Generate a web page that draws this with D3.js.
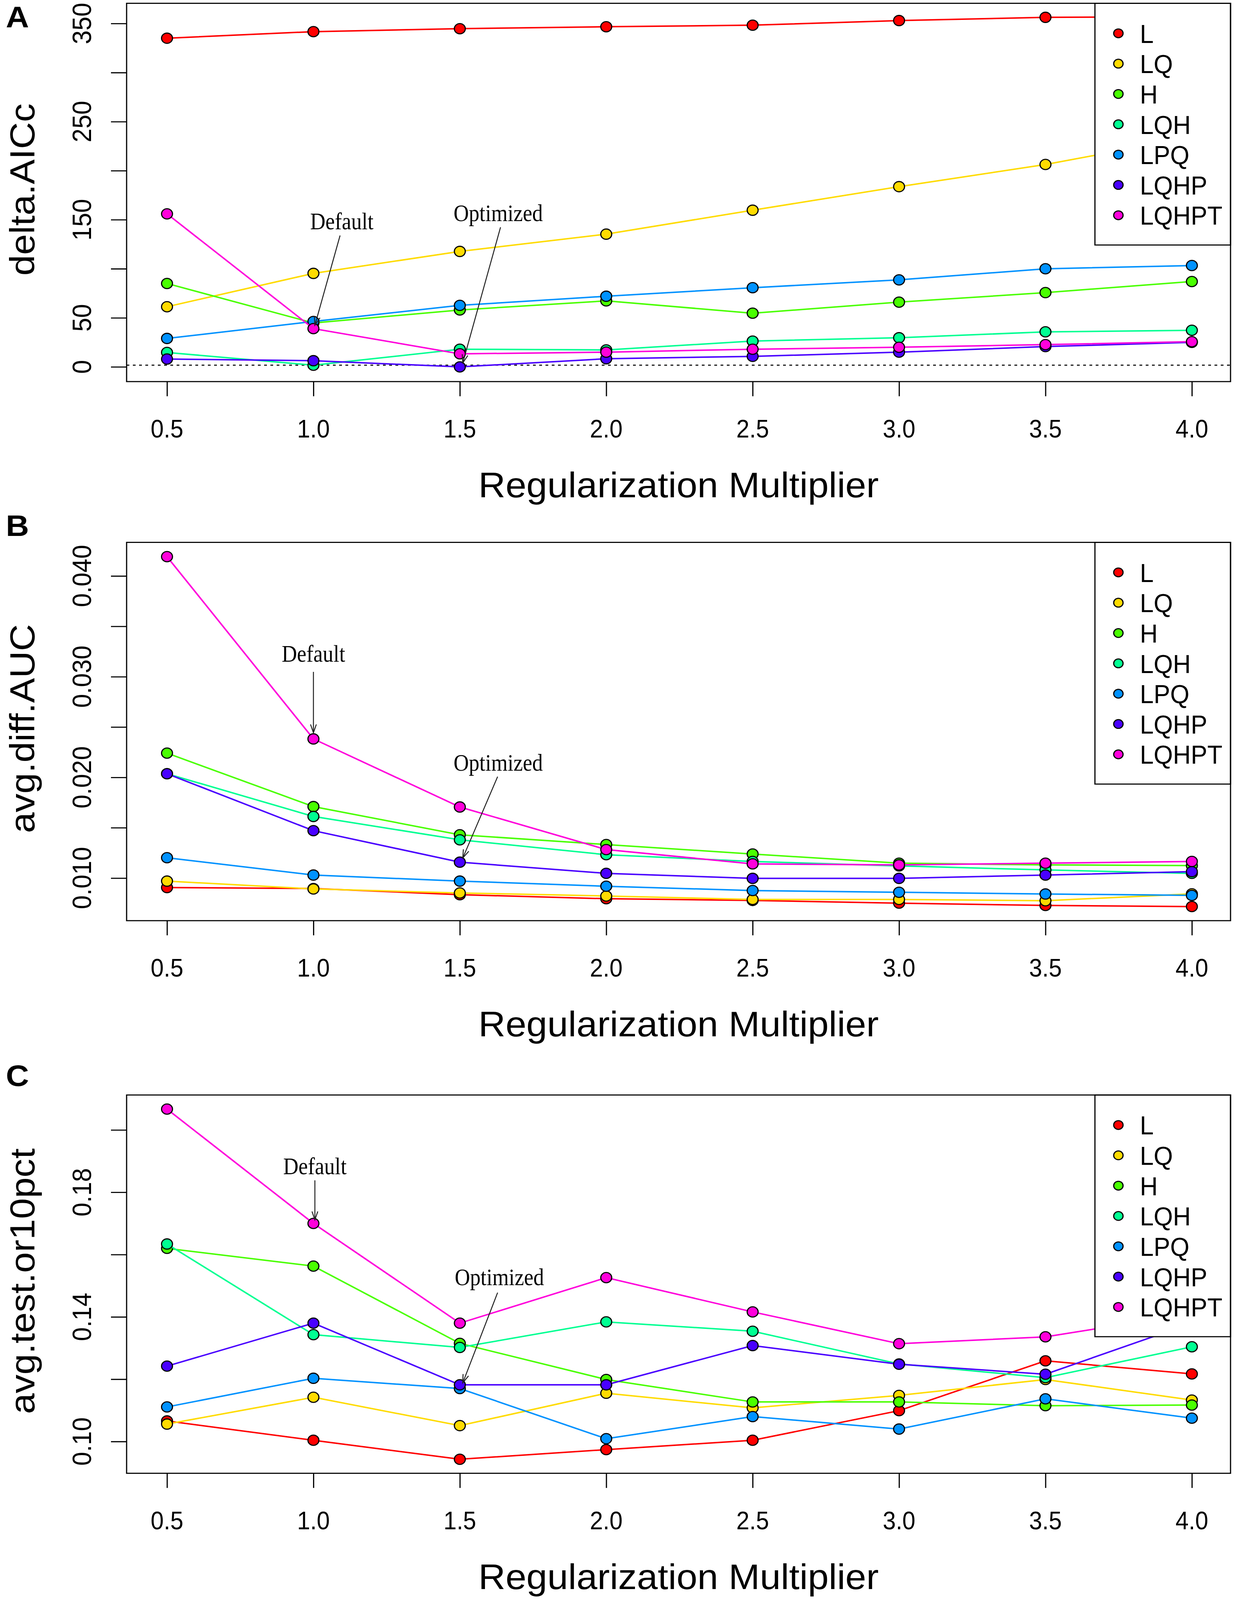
<!DOCTYPE html>
<html>
<head>
<meta charset="utf-8">
<script src="https://cdn.jsdelivr.net/npm/d3@7"></script>
<style>
  html, body { margin: 0; padding: 0; background: #fff; overflow: hidden; }
  #chart svg { display: block; }
  text { font-family: "Liberation Sans", Arial, sans-serif; fill: #000; }
  .note { font-family: "Liberation Serif", "Times New Roman", serif; }
</style>
</head>
<body>
<div id="chart"></div>
<script>
// x values shared by all three panels
var multipliers = [0.5, 1.0, 1.5, 2.0, 2.5, 3.0, 3.5, 4.0];
var featureClasses = ["L", "LQ", "H", "LQH", "LPQ", "LQHP", "LQHPT"];
var classColors = ["#FF0000", "#FFDB00", "#49FF00", "#00FF92", "#0092FF", "#4900FF", "#FF00DB"];

// panel A: delta.AICc, one row per feature class (same order as featureClasses)
var deltaAICc = [
    [335, 341.7, 344.7, 346.7, 348.3, 353, 356.3, 357],
    [61.3, 95.3, 117.7, 135.3, 159.7, 183.7, 206.3, 234],
    [85, 44.7, 58, 67.3, 54.7, 66, 75.7, 87],
    [14.7, 1.7, 18, 17.3, 26.3, 29.7, 35.7, 37.3],
    [29, 46.3, 62.7, 72, 80.7, 88.7, 100, 103.3],
    [8, 6.3, 0, 8.3, 10.7, 15, 20.7, 25],
    [156, 39, 13.3, 15, 18, 20, 22.7, 25.7]
];
var aiccTicks = [0, 50, 100, 150, 200, 250, 300, 350];
var aiccLabels = [0, 50, 150, 250, 350];

// panel B: avg.diff.AUC
var avgDiffAUC = [
    [0.00906, 0.00896, 0.00835, 0.00795, 0.00778, 0.00751, 0.00728, 0.00717],
    [0.00970, 0.00892, 0.00852, 0.00822, 0.00788, 0.00788, 0.00775, 0.00843],
    [0.02241, 0.01710, 0.01430, 0.01333, 0.01239, 0.01148, 0.01131, 0.01124],
    [0.02036, 0.01612, 0.01380, 0.01232, 0.01165, 0.01121, 0.01081, 0.01047],
    [0.01202, 0.01030, 0.00970, 0.00919, 0.00876, 0.00859, 0.00842, 0.00828],
    [0.02036, 0.01471, 0.01158, 0.01047, 0.00997, 0.00997, 0.01030, 0.01064],
    [0.04192, 0.02382, 0.01706, 0.01283, 0.01141, 0.01131, 0.01148, 0.01165]
];
var aucTicks = [0.010, 0.015, 0.020, 0.025, 0.030, 0.035, 0.040];
var aucLabels = [0.010, 0.020, 0.030, 0.040];

// panel C: avg.test.or10pct
var avgTestOr10 = [
    [0.1066, 0.1004, 0.0943, 0.0974, 0.1004, 0.1099, 0.1259, 0.1217],
    [0.1056, 0.1142, 0.1051, 0.1155, 0.1108, 0.1148, 0.1199, 0.1133],
    [0.1620, 0.1563, 0.1315, 0.1199, 0.1127, 0.1127, 0.1115, 0.1117],
    [0.1634, 0.1343, 0.1302, 0.1384, 0.1354, 0.1249, 0.1205, 0.1304],
    [0.1111, 0.1203, 0.1170, 0.1009, 0.1080, 0.1040, 0.1137, 0.1075],
    [0.1242, 0.1380, 0.1182, 0.1182, 0.1308, 0.1248, 0.1216, 0.1380],
    [0.2067, 0.1700, 0.1380, 0.1526, 0.1416, 0.1314, 0.1336, 0.1411]
];
var orTicks = [0.10, 0.12, 0.14, 0.16, 0.18, 0.20];
var orLabels = [0.10, 0.14, 0.18];

// "Default" / "Optimized" notes in data units: text [x, y], arrow from [x, y] to [x, y]
var defaultNotes = [
    { text: [1.097, 148.9], from: [1.091, 133.9], to: [1.005, 42.5] },
    { text: [1.0, 0.03233], from: [1.0, 0.03048], to: [1.0, 0.02443] },
    { text: [1.005, 0.18854], from: [1.005, 0.18384], to: [1.005, 0.17115] }
];
var optimizedNotes = [
    { text: [1.631, 157.4], from: [1.639, 142.3], to: [1.510, 4.0] },
    { text: [1.631, 0.02150], from: [1.629, 0.02007], to: [1.510, 0.01199] },
    { text: [1.635, 0.15286], from: [1.629, 0.14780], to: [1.510, 0.11883] }
];

var width = 3163,
    height = 4369;
var left = 324, right = 3149, boxH = 1033;

var panels = [
    { tag: "A", top: 9, tagY: 75, title: "delta.AICc", data: deltaAICc, domain: [-15.0, 370.6],
      ticks: aiccTicks, labels: aiccLabels, fmt: d3.format("d"), refLine: 1.7 },
    { tag: "B", top: 1481, tagY: 1463, title: "avg.diff.AUC", data: avgDiffAUC, domain: [0.00577, 0.04334],
      ticks: aucTicks, labels: aucLabels, fmt: d3.format(".3f") },
    { tag: "C", top: 2990, tagY: 2965, title: "avg.test.or10pct", data: avgTestOr10, domain: [0.0898, 0.21123],
      ticks: orTicks, labels: orLabels, fmt: d3.format(".2f") }
];

// scale the drawing to whatever the viewport really is, so nothing falls off the bottom
var svg = d3.select("#chart").append("svg")
    .attr("viewBox", "0 0 " + width + " " + height)
    .attr("preserveAspectRatio", "none")
    .style("width", "100vw")
    .style("height", "100vh")
    .style("background", "#fff");

var x = d3.scaleLinear()
    .domain([0.362, 4.132])
    .range([left, right]);

panels.forEach(function (p, k) {
    var y = d3.scaleLinear()
        .domain(p.domain)
        .range([p.top + boxH, p.top]);
    var g = svg.append("g");
    var bottom = p.top + boxH;

    // panel letter
    g.append("text")
        .attr("x", 15).attr("y", p.tagY)
        .style("font-size", "82px").style("font-weight", "bold")
        .text(p.tag);

    // x axis ticks + labels
    var xAxis = g.append("g").attr("transform", "translate(0," + bottom + ")")
        .call(d3.axisBottom(x).tickValues(multipliers).tickSize(40).tickFormat(""));
    xAxis.select(".domain").remove();
    xAxis.selectAll("line").attr("stroke", "#000").attr("stroke-width", 3);
    g.selectAll(".xlab").data(multipliers).enter().append("text")
        .attr("transform", d => "translate(" + x(d) + "," + (bottom + 153) + ") scale(0.86,1)")
        .attr("text-anchor", "middle")
        .style("font-size", "70px")
        .text(d => d3.format(".1f")(d));

    g.append("text")
        .attr("x", (left + right) / 2).attr("y", bottom + 316)
        .attr("text-anchor", "middle")
        .style("font-size", "96px")
        .text("Regularization Multiplier");

    // y axis ticks + rotated labels
    var yAxis = g.append("g").attr("transform", "translate(" + left + ",0)")
        .call(d3.axisLeft(y).tickValues(p.ticks).tickSize(40).tickFormat(""));
    yAxis.select(".domain").remove();
    yAxis.selectAll("line").attr("stroke", "#000").attr("stroke-width", 3);
    g.selectAll(".ylab").data(p.labels).enter().append("text")
        .attr("transform", d => "translate(233," + y(d) + ") rotate(-90)")
        .attr("text-anchor", "middle")
        .style("font-size", "68px")
        .text(d => p.fmt(d));

    g.append("text")
        .attr("transform", "translate(88," + (p.top + boxH / 2 - 8) + ") scale(0.88,1) rotate(-90)")
        .attr("text-anchor", "middle")
        .style("font-size", "102px")
        .text(p.title);

    // dotted reference line (panel A only)
    if (p.refLine !== undefined) {
        g.append("line")
            .attr("x1", left).attr("x2", right)
            .attr("y1", y(p.refLine)).attr("y2", y(p.refLine))
            .attr("stroke", "#000").attr("stroke-width", 3)
            .attr("stroke-dasharray", "7,9");
    }

    var line = d3.line()
        .x((d, i) => x(multipliers[i]))
        .y(d => y(d));

    p.data.forEach(function (vals, s) {
        g.append("path")
            .datum(vals)
            .attr("fill", "none")
            .attr("stroke", classColors[s])
            .attr("stroke-width", 4)
            .attr("d", line);
        g.selectAll(".pt" + s).data(vals).enter().append("circle")
            .attr("cx", (d, i) => x(multipliers[i]))
            .attr("cy", d => y(d))
            .attr("r", 14)
            .attr("fill", classColors[s])
            .attr("stroke", "#000")
            .attr("stroke-width", 3);
    });

    // annotations
    [defaultNotes[k], optimizedNotes[k]].forEach(function (n, j) {
        g.append("text")
            .attr("class", "note")
            .attr("transform", "translate(" + x(n.text[0]) + "," + y(n.text[1]) + ") scale(0.82,1)")
            .attr("text-anchor", "middle")
            .attr("dy", "0.35em")
            .style("font-size", "66px")
            .text(j == 0 ? "Default" : "Optimized");
        var x1 = x(n.from[0]), y1 = y(n.from[1]), x2 = x(n.to[0]), y2 = y(n.to[1]);
        var ang = Math.atan2(y2 - y1, x2 - x1);
        var len = 24, spread = Math.PI / 10;
        var head = [
            [x2 - len * Math.cos(ang - spread), y2 - len * Math.sin(ang - spread)],
            [x2, y2],
            [x2 - len * Math.cos(ang + spread), y2 - len * Math.sin(ang + spread)]
        ];
        g.append("line")
            .attr("x1", x1).attr("y1", y1).attr("x2", x2).attr("y2", y2)
            .attr("stroke", "#222").attr("stroke-width", 2.5);
        g.append("path")
            .attr("d", d3.line()(head))
            .attr("fill", "none")
            .attr("stroke", "#222").attr("stroke-width", 2.5);
    });

    // legend box (drawn over the lines)
    var lg = g.append("g");
    lg.append("rect")
        .attr("x", 2802).attr("y", p.top)
        .attr("width", right - 2802).attr("height", 660)
        .attr("fill", "#fff").attr("stroke", "#000").attr("stroke-width", 3);
    var ly = d3.scaleLinear().domain([0, 1]).range([p.top + 82, p.top + 82 + 82.8]);
    featureClasses.forEach(function (c, i) {
        lg.append("circle")
            .attr("cx", 2862).attr("cy", ly(i))
            .attr("r", 12)
            .attr("fill", classColors[i])
            .attr("stroke", "#000").attr("stroke-width", 3);
        lg.append("text")
            .attr("transform", "translate(2917," + (ly(i) + 26) + ") scale(0.88,1)")
            .style("font-size", "72px")
            .text(c);
    });

    // plot frame
    g.append("rect")
        .attr("x", left).attr("y", p.top)
        .attr("width", right - left).attr("height", boxH)
        .attr("fill", "none").attr("stroke", "#000").attr("stroke-width", 3);
});
</script>
</body>
</html>
